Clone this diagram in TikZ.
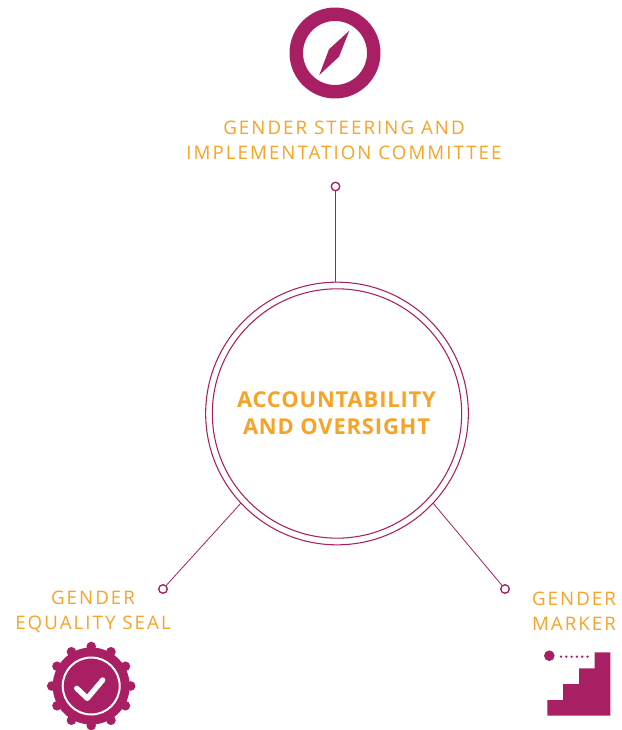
\documentclass[tikz,border=0pt]{standalone}
\usepackage{fontspec}
\setmainfont{Open Sans}
\newfontfamily\labelfont[LetterSpace=11]{Open Sans}
\newfontfamily\hubfont[LetterSpace=4]{Open Sans}
\definecolor{plum}{HTML}{A81F64}
\definecolor{amber}{HTML}{F8A226}

\begin{document}
\begin{tikzpicture}[x=0.75pt, y=-0.75pt,
    ring/.style={circle, draw=plum, line width=0.8pt, inner sep=0, outer sep=0, minimum size=197pt},
    dot/.style={circle, draw=plum, line width=1pt, fill=white, inner sep=0, outer sep=0, minimum size=6.4pt},
    caption/.style={text=amber, align=center, inner sep=0, font=\labelfont\fontsize{14}{18.75}\selectfont},
    link/.style={draw=plum, line width=0.6pt}]
    \useasboundingbox (0,0) rectangle (621,730);
    \node[ring] (hub) at (337,413.5) {};
    \node[ring, minimum size=187pt] (inner) at (337,413.5) {};
    \node[text=amber, align=center, inner sep=0, font=\hubfont\bfseries\fontsize{16.4}{20.25}\selectfont] (title) at (336.5,413) {ACCOUNTABILITY\\AND OVERSIGHT};
    \node[dot] (top) at (335.5,186.5) {};
    \node[dot] (left) at (163,589) {};
    \node[dot] (right) at (505,589) {};
    \draw[link] (hub.north) ++(-1.5,0) coordinate (hubtop) -- (top);
    \draw[link] (hub.223) -- (left);
    \draw[link] (hub.317) -- (right);
    \node[caption] (steering) at (344,140) {GENDER STEERING AND\\IMPLEMENTATION COMMITTEE};
    \node[caption] (seal) at (93,612) {GENDER\\EQUALITY SEAL};
    \node[caption] (marker) at (574,611) {GENDER\\MARKER};
    % compass
    \draw[plum, line width=10.1pt] (335,53) circle (38.75);
    \fill[plum] (349.3,30.7) -- (339,56.7) -- (319.3,75) -- (329,49.3) -- cycle;
    % seal
    \fill[plum] (91.2,686) circle (38.5);
    \foreach \a in {0,30,...,330}
        \fill[plum] (91.2,686) ++(\a:39.5) circle (4.8);
    \draw[white, line width=1.5pt] (91.2,686) circle (28.5);
    \draw[white, line width=4pt, line cap=round, line join=round] (76.7,688.3) -- (87.3,698.3) -- (102.7,680);
    % stairs
    \fill[plum] (547.3,715.7) |- (563,700) |- (579,684) |- (594.7,668.3) |- (610.3,652.3) |- cycle;
    \fill[plum] (549.3,655.7) circle (5.3);
    \foreach \x in {0,...,5}
        \fill[plum] (561+5.3*\x,656.7) circle (1.3);
\end{tikzpicture}
\end{document}
